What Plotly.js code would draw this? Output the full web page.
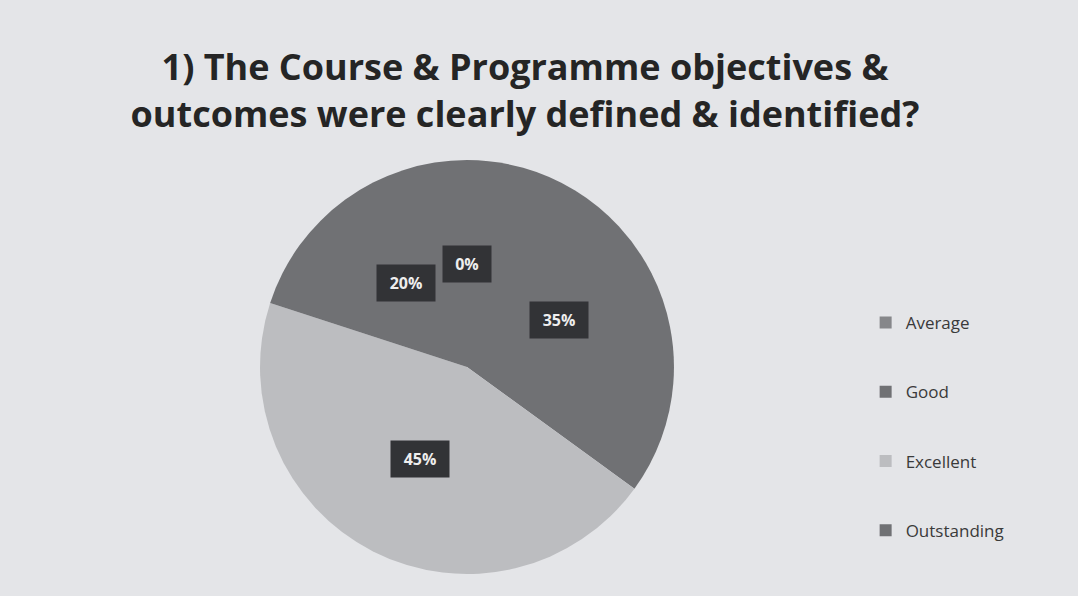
<!DOCTYPE html>
<html>
<head>
<meta charset="utf-8">
<script src="https://cdn.plot.ly/plotly-3.0.1.min.js"></script>
<style>html,body{margin:0;padding:0;background:#e4e5e8;}#chart{width:1078px;height:596px;}</style>
</head>
<body>
<div id="chart"></div>
<script>
// ---- data ----
const categories = ['Average', 'Good', 'Excellent', 'Outstanding'];
const percents = [0, 35, 45, 20];
const sliceColors = ['#86878a', '#707174', '#bcbdc0', '#707174'];
const chartTitle = '1) The Course & Programme objectives &<br>outcomes were clearly defined & identified?';

// ---- layout geometry ----
const W = 1078, H = 596;
const domX = [0.2412, 0.6252];
const domY = [0.0369, 0.7315];

// pie radius/center in pixels (margins are zero)
const rPx = Math.min((domX[1] - domX[0]) * W, (domY[1] - domY[0]) * H) / 2;
const cxP = (domX[0] + domX[1]) / 2;
const cyP = (domY[0] + domY[1]) / 2;
const total = percents.reduce((a, b) => a + b, 0);

// data labels at half radius on each slice's mid-angle (clockwise from 12 o'clock)
const annotations = [];
let cum = 0;
percents.forEach((v, i) => {
  const mid = (cum + v / 2) / total * 2 * Math.PI;
  cum += v;
  const dx = 0.5 * rPx * Math.sin(mid);
  const dy = 0.5 * rPx * Math.cos(mid);
  annotations.push({
    xref: 'paper', yref: 'paper',
    x: cxP + dx / W, y: cyP + dy / H,
    text: v + '%', showarrow: false,
    font: {family: '"Open Sans", Lato, sans-serif', size: 16, color: '#eeeeee', weight: 'bold'},
    bgcolor: '#323336', borderpad: 8,
    width: v < 10 ? 32 : 42, height: 20, align: 'center', valign: 'middle',
    xanchor: 'center', yanchor: 'middle'
  });
});

const trace = {
  type: 'pie',
  labels: categories.map(c => ' <br>' + c + '<br> '),
  values: percents,
  sort: false,
  direction: 'clockwise',
  rotation: 0,
  textinfo: 'none',
  hoverinfo: 'none',
  marker: {colors: sliceColors, line: {width: 0}},
  domain: {x: domX, y: domY},
  showlegend: true
};

const layout = {
  width: W, height: H,
  margin: {l: 0, r: 0, t: 0, b: 0},
  paper_bgcolor: '#e4e5e8',
  title: {
    text: chartTitle,
    x: 0.487, xanchor: 'center',
    y: 0.865, yref: 'container', yanchor: 'middle',
    font: {family: '"Open Sans", Lato, sans-serif', size: 36, color: '#252525', weight: 'bold'}
  },
  legend: {
    x: 0.803, xanchor: 'left',
    y: 0.284, yanchor: 'middle',
    font: {family: '"Open Sans", Lato, sans-serif', size: 17, color: '#3a3a3a'},
    bgcolor: 'rgba(0,0,0,0)',
    itemclick: false, itemdoubleclick: false
  },
  annotations: annotations
};

Plotly.newPlot('chart', [trace], layout, {staticPlot: true});
</script>
</body>
</html>
